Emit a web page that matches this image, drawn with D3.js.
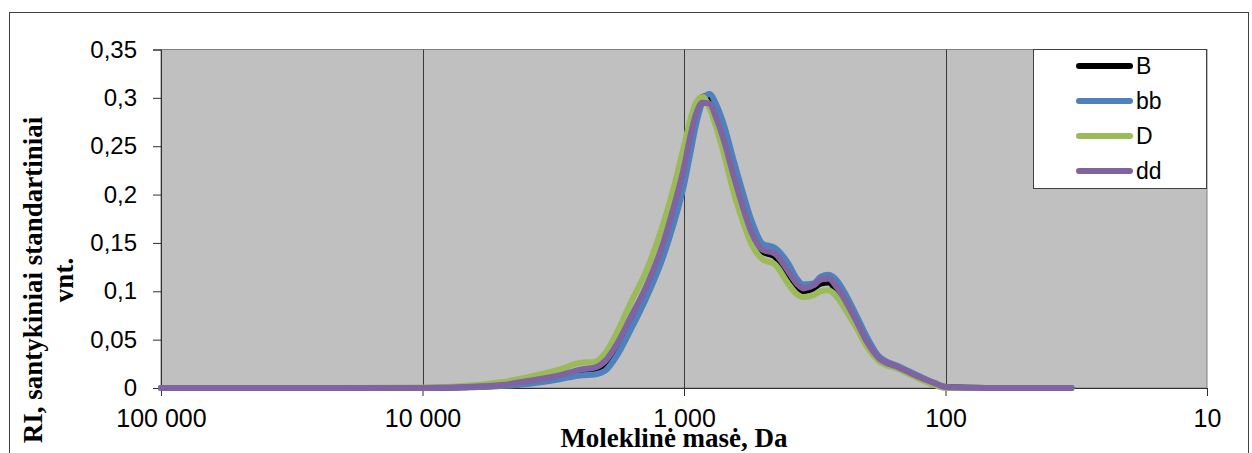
<!DOCTYPE html>
<html><head><meta charset="utf-8">
<script src="https://cdn.jsdelivr.net/npm/d3@7"></script>
<style>
html,body{margin:0;padding:0;background:#fff;}
svg{display:block;}
</style></head>
<body>
<svg id="chart" width="1252" height="453"></svg>
<script>
// ---- data ----
const masses = [100000, 20000, 10000, 7000, 5000, 4000, 3000, 2500, 2200, 2000, 1800, 1600, 1400, 1200, 1100, 1000, 950, 900, 850, 800, 750, 700, 650, 600, 550, 500, 450, 400, 370, 350, 320, 300, 280, 260, 240, 220, 200, 180, 150, 130, 110, 100, 70, 50, 33];
const seriesB  = [0, 0, 0, 0.0007, 0.0025, 0.005, 0.011, 0.016, 0.017, 0.023, 0.040, 0.066, 0.098, 0.143, 0.177, 0.220, 0.252, 0.282, 0.301, 0.302, 0.285, 0.260, 0.228, 0.195, 0.163, 0.141, 0.136, 0.117, 0.104, 0.100, 0.103, 0.108, 0.109, 0.100, 0.086, 0.067, 0.046, 0.030, 0.020, 0.012, 0.004, 0.001, 0, 0, 0];
const seriesBB = [0, 0, 0, 0.0005, 0.002, 0.004, 0.009, 0.013, 0.014, 0.018, 0.034, 0.060, 0.092, 0.136, 0.168, 0.210, 0.240, 0.272, 0.296, 0.304, 0.292, 0.270, 0.238, 0.205, 0.172, 0.149, 0.145, 0.129, 0.113, 0.107, 0.108, 0.115, 0.117, 0.111, 0.096, 0.076, 0.053, 0.033, 0.022, 0.014, 0.005, 0.001, 0, 0, 0];
const seriesD  = [0, 0, 0.0005, 0.002, 0.006, 0.011, 0.019, 0.026, 0.027, 0.036, 0.058, 0.088, 0.120, 0.170, 0.205, 0.250, 0.275, 0.295, 0.301, 0.290, 0.268, 0.240, 0.205, 0.175, 0.148, 0.133, 0.128, 0.108, 0.097, 0.094, 0.096, 0.100, 0.101, 0.094, 0.080, 0.063, 0.043, 0.028, 0.019, 0.011, 0.003, 0, 0, 0, 0];
const seriesDD = [0, 0, 0, 0.001, 0.003, 0.007, 0.013, 0.019, 0.021, 0.028, 0.046, 0.073, 0.104, 0.150, 0.185, 0.228, 0.258, 0.283, 0.295, 0.294, 0.278, 0.254, 0.222, 0.190, 0.160, 0.143, 0.139, 0.121, 0.108, 0.103, 0.106, 0.112, 0.113, 0.104, 0.089, 0.070, 0.048, 0.031, 0.021, 0.013, 0.005, 0.001, 0, 0, 0];
const seriesNames = ["B", "bb", "D", "dd"];
const xTickValues = [100000, 10000, 1000, 100, 10];
const xTickLabels = ["100 000", "10 000", "1 000", "100", "10"];
const yTickValues = [0, 0.05, 0.1, 0.15, 0.2, 0.25, 0.3, 0.35];
const yTickLabels = ["0", "0,05", "0,1", "0,15", "0,2", "0,25", "0,3", "0,35"];
const xTitle = "Moleklinė masė, Da";
const yTitleLines = ["RI, santykiniai standartiniai", "vnt."];

// ---- layout ----
const colors = ["#000000", "#4F81BD", "#9BBB59", "#8064A2"];
const allSeries = [seriesB, seriesBB, seriesD, seriesDD];
const L = 161, R = 1207, T = 49.5, B = 388;

const svg = d3.select("#chart");
// outer frame
svg.append("rect").attr("x", 9.5).attr("y", 12.5).attr("width", 1239).attr("height", 460)
  .attr("fill", "none").attr("stroke", "#404040").attr("stroke-width", 1);

const x = d3.scaleLog().domain([100000, 10]).range([L, R]);
const y = d3.scaleLinear().domain([0, 0.35]).range([B, T]);

// plot area
svg.append("rect").attr("x", L).attr("y", T).attr("width", R - L).attr("height", B - T)
  .attr("fill", "#C0C0C0").attr("stroke", "#808080").attr("stroke-width", 1);

// vertical gridlines
svg.append("g").selectAll("line").data(xTickValues.slice(1, -1)).join("line")
  .attr("x1", d => Math.round(x(d)) + 0.5).attr("x2", d => Math.round(x(d)) + 0.5)
  .attr("y1", T).attr("y2", B).attr("stroke", "#3a3a3a").attr("stroke-width", 1);

// axes
const xAxis = d3.axisBottom(x).tickValues(xTickValues)
  .tickFormat((d, i) => xTickLabels[i]).tickSize(8).tickPadding(13);
const gx = svg.append("g").attr("transform", `translate(0,${B})`).call(xAxis);
gx.select(".domain").attr("stroke", "#303030");
gx.selectAll(".tick line").attr("stroke", "#303030");
gx.selectAll("text").attr("font-family", "Liberation Sans, Arial, sans-serif")
  .attr("font-size", 25).attr("fill", "#000");

const yAxis = d3.axisLeft(y).tickValues(yTickValues)
  .tickFormat((d, i) => yTickLabels[i]).tickSize(8).tickPadding(16);
const gy = svg.append("g").attr("transform", `translate(${L},0)`).call(yAxis);
gy.select(".domain").attr("stroke", "#303030");
gy.selectAll(".tick line").attr("stroke", "#303030");
gy.selectAll("text").attr("font-family", "Liberation Sans, Arial, sans-serif")
  .attr("font-size", 24).attr("fill", "#000");

// lines
const line = d3.line().x(d => x(d[0])).y(d => y(d[1])).curve(d3.curveMonotoneX);
allSeries.forEach((s, i) => {
  svg.append("path").datum(masses.map((m, j) => [m, s[j]]))
    .attr("d", line).attr("fill", "none").attr("stroke", colors[i])
    .attr("stroke-width", 6).attr("stroke-linejoin", "round").attr("stroke-linecap", "round");
});

// legend
const lg = svg.append("g");
lg.append("rect").attr("x", 1033.5).attr("y", 49.5).attr("width", 173).attr("height", 139)
  .attr("fill", "#fff").attr("stroke", "#404040").attr("stroke-width", 1);
seriesNames.forEach((n, i) => {
  const cy = 66 + i * 35;
  lg.append("line").attr("x1", 1079).attr("x2", 1130).attr("y1", cy).attr("y2", cy)
    .attr("stroke", colors[i]).attr("stroke-width", 6).attr("stroke-linecap", "round");
  lg.append("text").attr("x", 1136).attr("y", cy).attr("dy", "0.36em")
    .attr("font-family", "Liberation Sans, Arial, sans-serif").attr("font-size", 23).text(n);
});

// axis titles
svg.append("text").attr("x", 674).attr("y", 447).attr("text-anchor", "middle")
  .attr("font-family", "Liberation Serif, Times New Roman, serif").attr("font-weight", "bold")
  .attr("font-size", 27).text(xTitle);

const yt = svg.append("text").attr("transform", "translate(42,280) rotate(-90)")
  .attr("text-anchor", "middle").attr("font-family", "Liberation Serif, Times New Roman, serif")
  .attr("font-weight", "bold").attr("font-size", 27);
yt.append("tspan").attr("x", 0).attr("y", 0).text(yTitleLines[0]);
yt.append("tspan").attr("x", 0).attr("y", 31).text(yTitleLines[1]);
</script>
</body></html>
